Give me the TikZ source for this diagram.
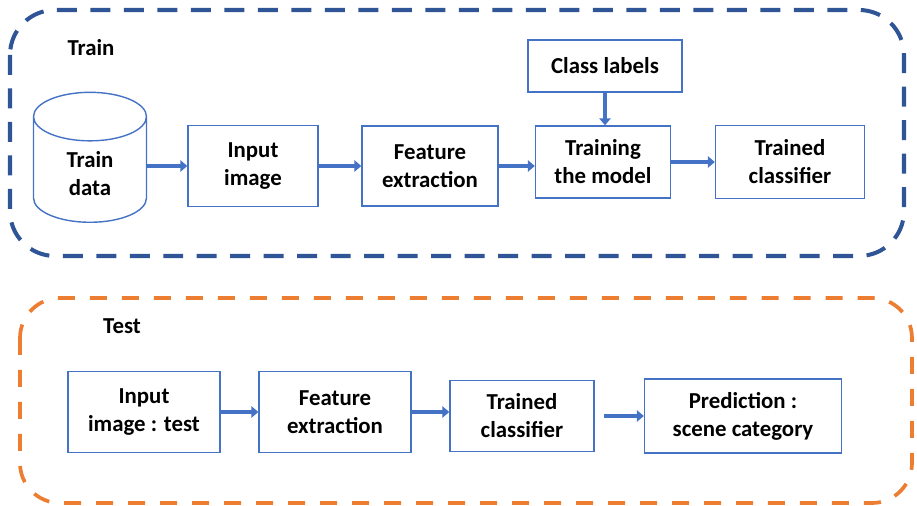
\documentclass[tikz,border=0pt]{standalone}
\usepackage{fontspec}
\setmainfont{Carlito}
\usetikzlibrary{shapes.geometric,arrows.meta}
\definecolor{boxblue}{HTML}{4472C4}
\definecolor{trainblue}{HTML}{2F5597}
\definecolor{testorange}{HTML}{ED7D31}

\begin{document}
\begin{tikzpicture}
  [x=0.02cm, y=-0.02cm,
   label text/.style={font=\fontsize{13}{16}\selectfont\bfseries},
   normal node/.style={draw=boxblue, line width=0.8pt, align=center, inner sep=2pt, label text},
   data node/.style={normal node, cylinder, shape border rotate=90, aspect=0.9, minimum width=2.26cm, minimum height=2.6cm},
   frame/.style={line width=2.3pt, rounded corners=0.9cm, dash pattern=on 0.4cm off 0.27cm},
   flow/.style={draw=boxblue, line width=2.6pt, -{Triangle[length=4pt,width=6.5pt]}}]

\useasboundingbox (0,0) rectangle (917,506);

% train
\draw[frame, trainblue] (10,10) rectangle (904,256);
\node[label text] (train) at (91,48) {Train};

\node[data node, anchor=south] (data) at (90,223) {Train\\data};
\node[normal node, minimum width=2.6cm, minimum height=1.62cm] (input) at (253,166) {Input\\image};
\node[normal node, minimum width=2.72cm, minimum height=1.6cm] (feature) at (430,166) {Feature\\extraction};
\node[normal node, minimum width=2.7cm, minimum height=1.44cm] (model) at (603,162) {Training\\the model};
\node[normal node, minimum width=3.08cm, minimum height=1.04cm] (labels) at (605,66) {Class labels};
\node[normal node, minimum width=2.98cm, minimum height=1.46cm] (trained) at (790,162) {Trained\\classifier};

\path
  (input.west -| data.east) edge [flow] (input.west)
  (feature.west -| input.east) edge [flow] (feature.west)
  (feature.east) edge [flow] (feature.east -| model.west)
  (model.east) edge [flow] (trained.west)
  (labels.south) edge [flow] (labels.south |- model.north);

% test
\draw[frame, testorange, rounded corners=0.8cm, dash pattern=on 0.34cm off 0.3cm, line width=2.1pt] (20,298) rectangle (912,503);
\node[label text] (test) at (122,326) {Test};

\node[normal node, minimum width=3.04cm, minimum height=1.62cm] (tinput) at (144,412) {Input\\image : test};
\node[normal node, minimum width=3.04cm, minimum height=1.62cm] (tfeature) at (335,412) {Feature\\extraction};
\node[normal node, minimum width=2.88cm, minimum height=1.42cm] (tclass) at (522,416) {Trained\\classifier};
\node[normal node, minimum width=3.94cm, minimum height=1.48cm] (predict) at (743,416) {Prediction :\\scene category};

\path
  (tinput.east) edge [flow] (tinput.east -| tfeature.west)
  (tfeature.east) edge [flow] (tfeature.east -| tclass.west)
  (tclass.east) edge [flow, shorten <=0.18cm] (predict.west);

\end{tikzpicture}
\end{document}
